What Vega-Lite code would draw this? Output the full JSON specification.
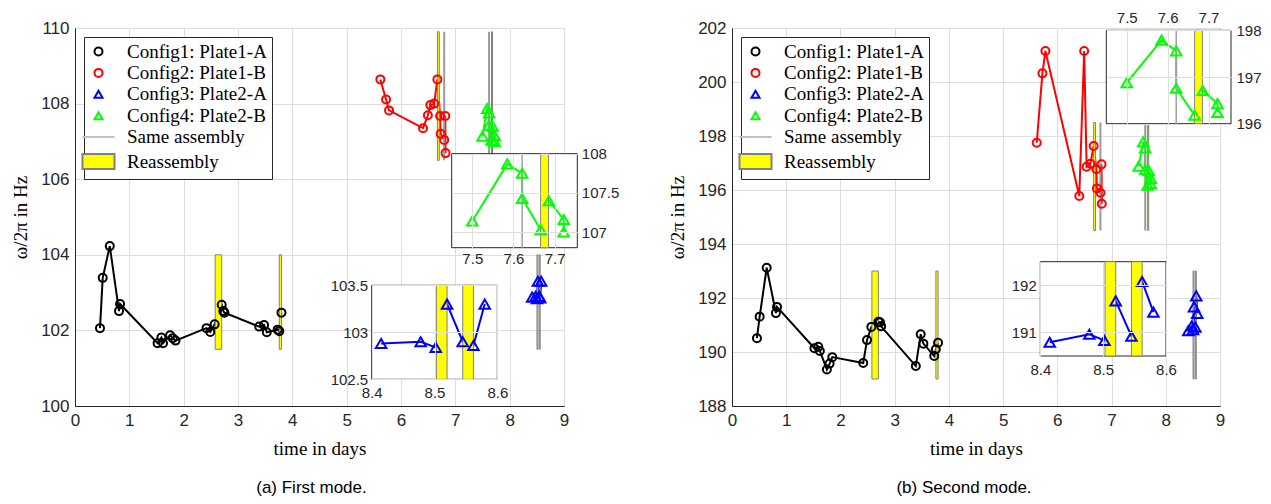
{
  "$schema": "https://vega.github.io/schema/vega-lite/v6.json",
  "padding": {"left": 11, "top": 9, "right": 0, "bottom": 0},
  "bounds": "flush",
  "spacing": 168,
  "datasets": {
    "pts": [
      {"mode":"a","config":"Config1: Plate1-A","t":0.46,"f":102.06,"seq":1},
      {"mode":"a","config":"Config1: Plate1-A","t":0.51,"f":103.39,"seq":2},
      {"mode":"a","config":"Config1: Plate1-A","t":0.64,"f":104.23,"seq":3},
      {"mode":"a","config":"Config1: Plate1-A","t":0.81,"f":102.51,"seq":4},
      {"mode":"a","config":"Config1: Plate1-A","t":0.83,"f":102.70,"seq":5},
      {"mode":"a","config":"Config1: Plate1-A","t":1.52,"f":101.66,"seq":6},
      {"mode":"a","config":"Config1: Plate1-A","t":1.59,"f":101.81,"seq":7},
      {"mode":"a","config":"Config1: Plate1-A","t":1.62,"f":101.66,"seq":8},
      {"mode":"a","config":"Config1: Plate1-A","t":1.75,"f":101.87,"seq":9},
      {"mode":"a","config":"Config1: Plate1-A","t":1.80,"f":101.79,"seq":10},
      {"mode":"a","config":"Config1: Plate1-A","t":1.85,"f":101.73,"seq":11},
      {"mode":"a","config":"Config1: Plate1-A","t":2.42,"f":102.06,"seq":12},
      {"mode":"a","config":"Config1: Plate1-A","t":2.49,"f":101.96,"seq":13},
      {"mode":"a","config":"Config1: Plate1-A","t":2.57,"f":102.16,"seq":14},
      {"mode":"a","config":"Config1: Plate1-A","t":2.70,"f":102.68,"seq":15},
      {"mode":"a","config":"Config1: Plate1-A","t":2.73,"f":102.51,"seq":16},
      {"mode":"a","config":"Config1: Plate1-A","t":2.75,"f":102.47,"seq":17},
      {"mode":"a","config":"Config1: Plate1-A","t":3.39,"f":102.10,"seq":18},
      {"mode":"a","config":"Config1: Plate1-A","t":3.48,"f":102.14,"seq":19},
      {"mode":"a","config":"Config1: Plate1-A","t":3.53,"f":101.95,"seq":20},
      {"mode":"a","config":"Config1: Plate1-A","t":3.73,"f":102.02,"seq":21},
      {"mode":"a","config":"Config1: Plate1-A","t":3.76,"f":101.98,"seq":22},
      {"mode":"a","config":"Config1: Plate1-A","t":3.80,"f":102.47,"seq":23},
      {"mode":"a","config":"Config2: Plate1-B","t":5.62,"f":108.64,"seq":1},
      {"mode":"a","config":"Config2: Plate1-B","t":5.725,"f":108.11,"seq":2},
      {"mode":"a","config":"Config2: Plate1-B","t":5.78,"f":107.82,"seq":3},
      {"mode":"a","config":"Config2: Plate1-B","t":6.405,"f":107.35,"seq":4},
      {"mode":"a","config":"Config2: Plate1-B","t":6.495,"f":107.69,"seq":5},
      {"mode":"a","config":"Config2: Plate1-B","t":6.54,"f":107.96,"seq":6},
      {"mode":"a","config":"Config2: Plate1-B","t":6.61,"f":108.00,"seq":7},
      {"mode":"a","config":"Config2: Plate1-B","t":6.67,"f":108.64,"seq":8},
      {"mode":"a","config":"Config2: Plate1-B","t":6.72,"f":107.67,"seq":9},
      {"mode":"a","config":"Config2: Plate1-B","t":6.73,"f":107.20,"seq":10},
      {"mode":"a","config":"Config2: Plate1-B","t":6.795,"f":107.04,"seq":11},
      {"mode":"a","config":"Config2: Plate1-B","t":6.815,"f":107.67,"seq":12},
      {"mode":"a","config":"Config2: Plate1-B","t":6.82,"f":106.69,"seq":13},
      {"mode":"a","config":"Config3: Plate2-A","t":8.415,"f":102.88,"seq":1},
      {"mode":"a","config":"Config3: Plate2-A","t":8.478,"f":102.90,"seq":2},
      {"mode":"a","config":"Config3: Plate2-A","t":8.502,"f":102.84,"seq":3},
      {"mode":"a","config":"Config3: Plate2-A","t":8.52,"f":103.30,"seq":4},
      {"mode":"a","config":"Config3: Plate2-A","t":8.545,"f":102.90,"seq":5},
      {"mode":"a","config":"Config3: Plate2-A","t":8.562,"f":102.86,"seq":6},
      {"mode":"a","config":"Config3: Plate2-A","t":8.58,"f":103.30,"seq":7},
      {"mode":"a","config":"Config4: Plate2-B","t":7.5,"f":107.14,"seq":1},
      {"mode":"a","config":"Config4: Plate2-B","t":7.585,"f":107.87,"seq":2},
      {"mode":"a","config":"Config4: Plate2-B","t":7.621,"f":107.75,"seq":3},
      {"mode":"a","config":"Config4: Plate2-B","t":7.621,"f":107.43,"seq":4},
      {"mode":"a","config":"Config4: Plate2-B","t":7.666,"f":107.03,"seq":5},
      {"mode":"a","config":"Config4: Plate2-B","t":7.686,"f":107.40,"seq":6},
      {"mode":"a","config":"Config4: Plate2-B","t":7.722,"f":107.16,"seq":7},
      {"mode":"a","config":"Config4: Plate2-B","t":7.722,"f":107.00,"seq":8},
      {"mode":"b","config":"Config1: Plate1-A","t":0.46,"f":190.51,"seq":1},
      {"mode":"b","config":"Config1: Plate1-A","t":0.51,"f":191.31,"seq":2},
      {"mode":"b","config":"Config1: Plate1-A","t":0.64,"f":193.12,"seq":3},
      {"mode":"b","config":"Config1: Plate1-A","t":0.81,"f":191.44,"seq":4},
      {"mode":"b","config":"Config1: Plate1-A","t":0.83,"f":191.67,"seq":5},
      {"mode":"b","config":"Config1: Plate1-A","t":1.52,"f":190.14,"seq":6},
      {"mode":"b","config":"Config1: Plate1-A","t":1.59,"f":190.19,"seq":7},
      {"mode":"b","config":"Config1: Plate1-A","t":1.62,"f":190.04,"seq":8},
      {"mode":"b","config":"Config1: Plate1-A","t":1.75,"f":189.35,"seq":9},
      {"mode":"b","config":"Config1: Plate1-A","t":1.80,"f":189.57,"seq":10},
      {"mode":"b","config":"Config1: Plate1-A","t":1.85,"f":189.81,"seq":11},
      {"mode":"b","config":"Config1: Plate1-A","t":2.42,"f":189.59,"seq":12},
      {"mode":"b","config":"Config1: Plate1-A","t":2.49,"f":190.44,"seq":13},
      {"mode":"b","config":"Config1: Plate1-A","t":2.57,"f":190.93,"seq":14},
      {"mode":"b","config":"Config1: Plate1-A","t":2.70,"f":191.12,"seq":15},
      {"mode":"b","config":"Config1: Plate1-A","t":2.73,"f":191.10,"seq":16},
      {"mode":"b","config":"Config1: Plate1-A","t":2.75,"f":190.95,"seq":17},
      {"mode":"b","config":"Config1: Plate1-A","t":3.39,"f":189.48,"seq":18},
      {"mode":"b","config":"Config1: Plate1-A","t":3.48,"f":190.66,"seq":19},
      {"mode":"b","config":"Config1: Plate1-A","t":3.53,"f":190.31,"seq":20},
      {"mode":"b","config":"Config1: Plate1-A","t":3.73,"f":189.85,"seq":21},
      {"mode":"b","config":"Config1: Plate1-A","t":3.76,"f":190.10,"seq":22},
      {"mode":"b","config":"Config1: Plate1-A","t":3.80,"f":190.34,"seq":23},
      {"mode":"b","config":"Config2: Plate1-B","t":5.62,"f":197.75,"seq":1},
      {"mode":"b","config":"Config2: Plate1-B","t":5.725,"f":200.32,"seq":2},
      {"mode":"b","config":"Config2: Plate1-B","t":5.78,"f":201.15,"seq":3},
      {"mode":"b","config":"Config2: Plate1-B","t":6.405,"f":195.78,"seq":4},
      {"mode":"b","config":"Config2: Plate1-B","t":6.495,"f":201.15,"seq":5},
      {"mode":"b","config":"Config2: Plate1-B","t":6.54,"f":196.86,"seq":6},
      {"mode":"b","config":"Config2: Plate1-B","t":6.61,"f":196.97,"seq":7},
      {"mode":"b","config":"Config2: Plate1-B","t":6.67,"f":197.63,"seq":8},
      {"mode":"b","config":"Config2: Plate1-B","t":6.72,"f":196.77,"seq":9},
      {"mode":"b","config":"Config2: Plate1-B","t":6.73,"f":196.06,"seq":10},
      {"mode":"b","config":"Config2: Plate1-B","t":6.795,"f":195.90,"seq":11},
      {"mode":"b","config":"Config2: Plate1-B","t":6.815,"f":196.95,"seq":12},
      {"mode":"b","config":"Config2: Plate1-B","t":6.82,"f":195.49,"seq":13},
      {"mode":"b","config":"Config3: Plate2-A","t":8.415,"f":190.79,"seq":1},
      {"mode":"b","config":"Config3: Plate2-A","t":8.478,"f":190.96,"seq":2},
      {"mode":"b","config":"Config3: Plate2-A","t":8.502,"f":190.83,"seq":3},
      {"mode":"b","config":"Config3: Plate2-A","t":8.52,"f":191.67,"seq":4},
      {"mode":"b","config":"Config3: Plate2-A","t":8.545,"f":190.92,"seq":5},
      {"mode":"b","config":"Config3: Plate2-A","t":8.562,"f":192.08,"seq":6},
      {"mode":"b","config":"Config3: Plate2-A","t":8.58,"f":191.43,"seq":7},
      {"mode":"b","config":"Config4: Plate2-B","t":7.5,"f":196.88,"seq":1},
      {"mode":"b","config":"Config4: Plate2-B","t":7.585,"f":197.79,"seq":2},
      {"mode":"b","config":"Config4: Plate2-B","t":7.621,"f":197.56,"seq":3},
      {"mode":"b","config":"Config4: Plate2-B","t":7.621,"f":196.76,"seq":4},
      {"mode":"b","config":"Config4: Plate2-B","t":7.666,"f":196.18,"seq":5},
      {"mode":"b","config":"Config4: Plate2-B","t":7.686,"f":196.71,"seq":6},
      {"mode":"b","config":"Config4: Plate2-B","t":7.722,"f":196.43,"seq":7},
      {"mode":"b","config":"Config4: Plate2-B","t":7.722,"f":196.24,"seq":8}
    ],
    "ev": [
      {"mode":"a","kind":"Reassembly","t1":2.58,"t2":2.70,"f1":101.5,"f2":104},
      {"mode":"a","kind":"Reassembly","t1":3.76,"t2":3.80,"f1":101.5,"f2":104},
      {"mode":"a","kind":"Reassembly","t1":6.67,"t2":6.705,"f1":106.5,"f2":109.9},
      {"mode":"a","kind":"Same assembly","t1":6.795,"f1":106.5,"f2":109.9},
      {"mode":"a","kind":"Same assembly","t1":7.621,"f1":106.5,"f2":109.9},
      {"mode":"a","kind":"Reassembly","t1":7.666,"t2":7.685,"f1":106.5,"f2":109.9},
      {"mode":"a","kind":"Reassembly","t1":8.503,"t2":8.52,"f1":101.5,"f2":104},
      {"mode":"a","kind":"Reassembly","t1":8.545,"t2":8.562,"f1":101.5,"f2":104},
      {"mode":"b","kind":"Reassembly","t1":2.58,"t2":2.70,"f1":189,"f2":193},
      {"mode":"b","kind":"Reassembly","t1":3.76,"t2":3.80,"f1":189,"f2":193},
      {"mode":"b","kind":"Reassembly","t1":6.67,"t2":6.705,"f1":194.5,"f2":198.5},
      {"mode":"b","kind":"Same assembly","t1":6.795,"f1":194.5,"f2":198.5},
      {"mode":"b","kind":"Same assembly","t1":7.621,"f1":194.5,"f2":198.5},
      {"mode":"b","kind":"Reassembly","t1":7.666,"t2":7.685,"f1":194.5,"f2":198.5},
      {"mode":"b","kind":"Reassembly","t1":8.503,"t2":8.52,"f1":189,"f2":193},
      {"mode":"b","kind":"Reassembly","t1":8.545,"t2":8.562,"f1":189,"f2":193}
    ],
    "frames": [
      {"mode":"a","inset":"green","t1":7.45,"t2":7.755,"f1":106.8,"f2":108},
      {"mode":"a","inset":"blue","t1":8.4,"t2":8.6,"f1":102.5,"f2":103.5},
      {"mode":"b","inset":"green","t1":7.45,"t2":7.755,"f1":196,"f2":198},
      {"mode":"b","inset":"blue","t1":8.4,"t2":8.6,"f1":190.5,"f2":192.5}
    ]
  },
  "hconcat": [
    {
      "width": 489, "height": 378,
      "title": {"text": "(a) First mode.", "dx": -8},
      "resolve": {"scale": {"x": "independent", "y": "independent"}},
      "layer": [
        {
          "layer": [
            {
              "data": {"name": "pts"}, "transform": [{"filter": "datum.mode === 'a'"}],
              "mark": {"type": "line", "strokeWidth": 2},
              "encoding": {
                "x": {"field": "t", "type": "quantitative", "scale": {"domain": [0, 9], "nice": false, "zero": false}, "axis": {"title": "time in days", "values": [0,1,2,3,4,5,6,7,8,9], "format": "~g", "grid": true}},
                "y": {"field": "f", "type": "quantitative", "scale": {"domain": [100, 110], "nice": false, "zero": false}, "axis": {"title": "ω/2π in Hz", "values": [100,102,104,106,108,110], "format": "~g", "grid": true}},
                "stroke": {"field": "config", "type": "nominal", "title": null, "scale": {"domain": ["Config1: Plate1-A","Config2: Plate1-B","Config3: Plate2-A","Config4: Plate2-B","Same assembly","Reassembly"], "range": ["#000000","#ff0000","#0000ff","#00ff00","#c0c0c0","#808080"]}},
                "order": {"field": "seq", "type": "quantitative"}
              }
            },
            {
              "data": {"name": "ev"}, "transform": [{"filter": "datum.mode === 'a' && datum.kind === 'Same assembly'"}],
              "mark": {"type": "rule", "color": "#9a9a9a", "strokeWidth": 2},
              "encoding": {"x": {"field": "t1", "type": "quantitative"}, "y": {"field": "f1", "type": "quantitative"}, "y2": {"field": "f2"}}
            },
            {
              "data": {"name": "ev"}, "transform": [{"filter": "datum.mode === 'a' && datum.kind === 'Reassembly'"}],
              "mark": {"type": "rect", "fill": "#ffff00", "stroke": "#808080", "strokeWidth": 1},
              "encoding": {"x": {"field": "t1", "type": "quantitative"}, "x2": {"field": "t2"}, "y": {"field": "f1", "type": "quantitative"}, "y2": {"field": "f2"}}
            },
            {
              "data": {"name": "pts"}, "transform": [{"filter": "datum.mode === 'a' && (datum.config === 'Config1: Plate1-A' || datum.config === 'Config2: Plate1-B')"}],
              "mark": {"type": "point", "strokeWidth": 2, "size": 64, "opacity": 1},
              "encoding": {
                "x": {"field": "t", "type": "quantitative"},
                "y": {"field": "f", "type": "quantitative"},
                "stroke": {"field": "config", "type": "nominal", "title": null, "scale": {"domain": ["Config1: Plate1-A","Config2: Plate1-B","Config3: Plate2-A","Config4: Plate2-B","Same assembly","Reassembly"], "range": ["#000000","#ff0000","#0000ff","#00ff00","#c0c0c0","#808080"]}},
                "fill": {"field": "config", "type": "nominal", "title": null, "scale": {"domain": ["Config1: Plate1-A","Config2: Plate1-B","Config3: Plate2-A","Config4: Plate2-B","Same assembly","Reassembly"], "range": ["transparent","transparent","transparent","transparent","transparent","#ffff00"]}},
                "shape": {"field": "config", "type": "nominal", "title": null, "scale": {"domain": ["Config1: Plate1-A","Config2: Plate1-B","Config3: Plate2-A","Config4: Plate2-B","Same assembly","Reassembly"], "range": ["M-4,0M4,0M1,0A1,1,0,1,1,-1,0A1,1,0,1,1,1,0Z","M-4,0M4,0M1,0A1,1,0,1,1,-1,0A1,1,0,1,1,1,0Z","M-4,0M4,0M0,-0.866L-1,0.866L1,0.866Z","M-4,0M4,0M0,-0.866L-1,0.866L1,0.866Z","M-4,0H4","M-4,-1.9H4V1.9H-4Z"]}}
              }
            },
            {
              "data": {"name": "pts"}, "transform": [{"filter": "datum.mode === 'a' && (datum.config === 'Config3: Plate2-A' || datum.config === 'Config4: Plate2-B')"}],
              "mark": {"type": "point", "strokeWidth": 2, "size": 110, "opacity": 1},
              "encoding": {
                "x": {"field": "t", "type": "quantitative"},
                "y": {"field": "f", "type": "quantitative"},
                "stroke": {"field": "config", "type": "nominal", "title": null},
                "fill": {"field": "config", "type": "nominal", "title": null},
                "shape": {"field": "config", "type": "nominal", "title": null}
              }
            }
          ]
        },
        {
          "resolve": {"axis": {"x": "independent", "y": "independent"}},
          "layer": [
            {
              "data": {"name": "frames"}, "transform": [{"filter": "datum.mode === 'a' && datum.inset === 'green'"}],
              "mark": {"type": "rect", "fill": "#ffffff", "stroke": "#262626", "strokeWidth": 1},
              "encoding": {
                "x": {"field": "t1", "type": "quantitative", "scale": {"domain": [7.45, 7.755], "range": [376.7, 502.3], "nice": false, "zero": false}, "axis": {"orient": "top", "values": [7.5,7.6,7.7], "grid": true, "labels": false, "domain": false, "ticks": false, "title": null, "zindex": 1}},
                "x2": {"field": "t2"},
                "y": {"field": "f1", "type": "quantitative", "scale": {"domain": [106.8, 108], "range": [219.7, 125.7], "nice": false, "zero": false, "clamp": true}, "axis": {"orient": "left", "values": [107,107.5,108], "grid": true, "labels": false, "domain": false, "ticks": false, "title": null, "zindex": 1}},
                "y2": {"field": "f2"}
              }
            },
            {
              "data": {"name": "pts"}, "transform": [{"filter": "datum.mode === 'a' && datum.config === 'Config4: Plate2-B'"}],
              "mark": {"type": "line", "color": "#00ff00", "strokeWidth": 2},
              "encoding": {"x": {"field": "t", "type": "quantitative", "axis": null}, "y": {"field": "f", "type": "quantitative", "axis": null}, "order": {"field": "seq", "type": "quantitative"}}
            },
            {
              "data": {"name": "ev"}, "transform": [{"filter": "datum.mode === 'a' && datum.kind === 'Same assembly' && datum.t1 > 7.45 && datum.t1 < 7.755"}],
              "mark": {"type": "rule", "color": "#a0a0a0", "strokeWidth": 1.5},
              "encoding": {"x": {"field": "t1", "type": "quantitative", "axis": null}, "y": {"field": "f1", "type": "quantitative", "axis": null}, "y2": {"field": "f2"}}
            },
            {
              "data": {"name": "ev"}, "transform": [{"filter": "datum.mode === 'a' && datum.kind === 'Reassembly' && datum.t1 > 7.45 && datum.t1 < 7.755"}],
              "mark": {"type": "rect", "fill": "#ffff00", "stroke": "#808080", "strokeWidth": 1},
              "encoding": {"x": {"field": "t1", "type": "quantitative", "axis": null}, "x2": {"field": "t2"}, "y": {"field": "f1", "type": "quantitative", "axis": null}, "y2": {"field": "f2"}}
            },
            {
              "data": {"name": "pts"}, "transform": [{"filter": "datum.mode === 'a' && datum.config === 'Config4: Plate2-B'"}],
              "mark": {"type": "point", "shape": "triangle-up", "filled": false, "color": "#00ff00", "strokeWidth": 2, "size": 110, "opacity": 1},
              "encoding": {
                "x": {"field": "t", "type": "quantitative", "axis": {"orient": "bottom", "offset": -158.3, "values": [7.5,7.6,7.7], "format": "~g", "grid": false, "domain": false, "ticks": false, "labelFontSize": 15, "labelPadding": 4, "title": null}},
                "y": {"field": "f", "type": "quantitative", "axis": {"orient": "right", "offset": 13.3, "values": [107,107.5,108], "format": "~g", "grid": false, "domain": false, "ticks": false, "labelFontSize": 15, "labelPadding": 4, "title": null}}
              }
            }
          ]
        },
        {
          "resolve": {"axis": {"x": "independent", "y": "independent"}},
          "layer": [
            {
              "data": {"name": "frames"}, "transform": [{"filter": "datum.mode === 'a' && datum.inset === 'blue'"}],
              "mark": {"type": "rect", "fill": "#ffffff", "stroke": "#262626", "strokeWidth": 1},
              "encoding": {
                "x": {"field": "t1", "type": "quantitative", "scale": {"domain": [8.4, 8.6], "range": [296.7, 422.3], "nice": false, "zero": false}, "axis": {"orient": "top", "values": [8.4,8.5,8.6], "grid": true, "labels": false, "domain": false, "ticks": false, "title": null, "zindex": 1}},
                "x2": {"field": "t2"},
                "y": {"field": "f1", "type": "quantitative", "scale": {"domain": [102.5, 103.5], "range": [351.3, 257.3], "nice": false, "zero": false, "clamp": true}, "axis": {"orient": "left", "values": [102.5,103,103.5], "grid": true, "labels": false, "domain": false, "ticks": false, "title": null, "zindex": 1}},
                "y2": {"field": "f2"}
              }
            },
            {
              "data": {"name": "pts"}, "transform": [{"filter": "datum.mode === 'a' && datum.config === 'Config3: Plate2-A'"}],
              "mark": {"type": "line", "color": "#0000ff", "strokeWidth": 2},
              "encoding": {"x": {"field": "t", "type": "quantitative", "axis": null}, "y": {"field": "f", "type": "quantitative", "axis": null}, "order": {"field": "seq", "type": "quantitative"}}
            },
            {
              "data": {"name": "ev"}, "transform": [{"filter": "datum.mode === 'a' && datum.kind === 'Reassembly' && datum.t1 > 8.4 && datum.t1 < 8.6"}],
              "mark": {"type": "rect", "fill": "#ffff00", "stroke": "#808080", "strokeWidth": 1},
              "encoding": {"x": {"field": "t1", "type": "quantitative", "axis": null}, "x2": {"field": "t2"}, "y": {"field": "f1", "type": "quantitative", "axis": null}, "y2": {"field": "f2"}}
            },
            {
              "data": {"name": "pts"}, "transform": [{"filter": "datum.mode === 'a' && datum.config === 'Config3: Plate2-A'"}],
              "mark": {"type": "point", "shape": "triangle-up", "filled": false, "color": "#0000ff", "strokeWidth": 2, "size": 110, "opacity": 1},
              "encoding": {
                "x": {"field": "t", "type": "quantitative", "axis": {"orient": "bottom", "offset": -26.7, "values": [8.4,8.5,8.6], "format": "~g", "grid": false, "domain": false, "ticks": false, "labelFontSize": 15, "labelPadding": 6, "title": null}},
                "y": {"field": "f", "type": "quantitative", "axis": {"orient": "left", "offset": -296.7, "values": [102.5,103,103.5], "format": "~g", "grid": false, "domain": false, "ticks": false, "labelFontSize": 15, "labelPadding": 4, "title": null}}
              }
            }
          ]
        }
      ]
    },
    {
      "width": 488, "height": 378,
      "title": {"text": "(b) Second mode.", "dx": -12},
      "resolve": {"scale": {"x": "independent", "y": "independent"}},
      "layer": [
        {
          "layer": [
            {
              "data": {"name": "pts"}, "transform": [{"filter": "datum.mode === 'b'"}],
              "mark": {"type": "line", "strokeWidth": 2},
              "encoding": {
                "x": {"field": "t", "type": "quantitative", "scale": {"domain": [0, 9], "nice": false, "zero": false}, "axis": {"title": "time in days", "values": [0,1,2,3,4,5,6,7,8,9], "format": "~g", "grid": true}},
                "y": {"field": "f", "type": "quantitative", "scale": {"domain": [188, 202], "nice": false, "zero": false}, "axis": {"title": "ω/2π in Hz", "values": [188,190,192,194,196,198,200,202], "format": "~g", "grid": true}},
                "stroke": {"field": "config", "type": "nominal", "title": null, "scale": {"domain": ["Config1: Plate1-A","Config2: Plate1-B","Config3: Plate2-A","Config4: Plate2-B","Same assembly","Reassembly"], "range": ["#000000","#ff0000","#0000ff","#00ff00","#c0c0c0","#808080"]}},
                "order": {"field": "seq", "type": "quantitative"}
              }
            },
            {
              "data": {"name": "ev"}, "transform": [{"filter": "datum.mode === 'b' && datum.kind === 'Same assembly'"}],
              "mark": {"type": "rule", "color": "#9a9a9a", "strokeWidth": 2},
              "encoding": {"x": {"field": "t1", "type": "quantitative"}, "y": {"field": "f1", "type": "quantitative"}, "y2": {"field": "f2"}}
            },
            {
              "data": {"name": "ev"}, "transform": [{"filter": "datum.mode === 'b' && datum.kind === 'Reassembly'"}],
              "mark": {"type": "rect", "fill": "#ffff00", "stroke": "#808080", "strokeWidth": 1},
              "encoding": {"x": {"field": "t1", "type": "quantitative"}, "x2": {"field": "t2"}, "y": {"field": "f1", "type": "quantitative"}, "y2": {"field": "f2"}}
            },
            {
              "data": {"name": "pts"}, "transform": [{"filter": "datum.mode === 'b' && (datum.config === 'Config1: Plate1-A' || datum.config === 'Config2: Plate1-B')"}],
              "mark": {"type": "point", "strokeWidth": 2, "size": 64, "opacity": 1},
              "encoding": {
                "x": {"field": "t", "type": "quantitative"},
                "y": {"field": "f", "type": "quantitative"},
                "stroke": {"field": "config", "type": "nominal", "title": null, "scale": {"domain": ["Config1: Plate1-A","Config2: Plate1-B","Config3: Plate2-A","Config4: Plate2-B","Same assembly","Reassembly"], "range": ["#000000","#ff0000","#0000ff","#00ff00","#c0c0c0","#808080"]}},
                "fill": {"field": "config", "type": "nominal", "title": null, "scale": {"domain": ["Config1: Plate1-A","Config2: Plate1-B","Config3: Plate2-A","Config4: Plate2-B","Same assembly","Reassembly"], "range": ["transparent","transparent","transparent","transparent","transparent","#ffff00"]}},
                "shape": {"field": "config", "type": "nominal", "title": null, "scale": {"domain": ["Config1: Plate1-A","Config2: Plate1-B","Config3: Plate2-A","Config4: Plate2-B","Same assembly","Reassembly"], "range": ["M-4,0M4,0M1,0A1,1,0,1,1,-1,0A1,1,0,1,1,1,0Z","M-4,0M4,0M1,0A1,1,0,1,1,-1,0A1,1,0,1,1,1,0Z","M-4,0M4,0M0,-0.866L-1,0.866L1,0.866Z","M-4,0M4,0M0,-0.866L-1,0.866L1,0.866Z","M-4,0H4","M-4,-1.9H4V1.9H-4Z"]}}
              }
            },
            {
              "data": {"name": "pts"}, "transform": [{"filter": "datum.mode === 'b' && (datum.config === 'Config3: Plate2-A' || datum.config === 'Config4: Plate2-B')"}],
              "mark": {"type": "point", "strokeWidth": 2, "size": 110, "opacity": 1},
              "encoding": {
                "x": {"field": "t", "type": "quantitative"},
                "y": {"field": "f", "type": "quantitative"},
                "stroke": {"field": "config", "type": "nominal", "title": null},
                "fill": {"field": "config", "type": "nominal", "title": null},
                "shape": {"field": "config", "type": "nominal", "title": null}
              }
            }
          ]
        },
        {
          "resolve": {"axis": {"x": "independent", "y": "independent"}},
          "layer": [
            {
              "data": {"name": "frames"}, "transform": [{"filter": "datum.mode === 'b' && datum.inset === 'green'"}],
              "mark": {"type": "rect", "fill": "#ffffff", "stroke": "#262626", "strokeWidth": 1},
              "encoding": {
                "x": {"field": "t1", "type": "quantitative", "scale": {"domain": [7.45, 7.755], "range": [374.3, 499], "nice": false, "zero": false}, "axis": {"orient": "top", "values": [7.5,7.6,7.7], "grid": true, "labels": false, "domain": false, "ticks": false, "title": null, "zindex": 1}},
                "x2": {"field": "t2"},
                "y": {"field": "f1", "type": "quantitative", "scale": {"domain": [196, 198], "range": [95.7, 2.3], "nice": false, "zero": false, "clamp": true}, "axis": {"orient": "left", "values": [196,197,198], "grid": true, "labels": false, "domain": false, "ticks": false, "title": null, "zindex": 1}},
                "y2": {"field": "f2"}
              }
            },
            {
              "data": {"name": "pts"}, "transform": [{"filter": "datum.mode === 'b' && datum.config === 'Config4: Plate2-B'"}],
              "mark": {"type": "line", "color": "#00ff00", "strokeWidth": 2},
              "encoding": {"x": {"field": "t", "type": "quantitative", "axis": null}, "y": {"field": "f", "type": "quantitative", "axis": null}, "order": {"field": "seq", "type": "quantitative"}}
            },
            {
              "data": {"name": "ev"}, "transform": [{"filter": "datum.mode === 'b' && datum.kind === 'Same assembly' && datum.t1 > 7.45 && datum.t1 < 7.755"}],
              "mark": {"type": "rule", "color": "#a0a0a0", "strokeWidth": 1.5},
              "encoding": {"x": {"field": "t1", "type": "quantitative", "axis": null}, "y": {"field": "f1", "type": "quantitative", "axis": null}, "y2": {"field": "f2"}}
            },
            {
              "data": {"name": "ev"}, "transform": [{"filter": "datum.mode === 'b' && datum.kind === 'Reassembly' && datum.t1 > 7.45 && datum.t1 < 7.755"}],
              "mark": {"type": "rect", "fill": "#ffff00", "stroke": "#808080", "strokeWidth": 1},
              "encoding": {"x": {"field": "t1", "type": "quantitative", "axis": null}, "x2": {"field": "t2"}, "y": {"field": "f1", "type": "quantitative", "axis": null}, "y2": {"field": "f2"}}
            },
            {
              "data": {"name": "pts"}, "transform": [{"filter": "datum.mode === 'b' && datum.config === 'Config4: Plate2-B'"}],
              "mark": {"type": "point", "shape": "triangle-up", "filled": false, "color": "#00ff00", "strokeWidth": 2, "size": 110, "opacity": 1},
              "encoding": {
                "x": {"field": "t", "type": "quantitative", "axis": {"orient": "top", "offset": -2.3, "values": [7.5,7.6,7.7], "format": "~g", "grid": false, "domain": false, "ticks": false, "labelFontSize": 15, "labelPadding": 5, "title": null}},
                "y": {"field": "f", "type": "quantitative", "axis": {"orient": "right", "offset": 11, "values": [196,197,198], "format": "~g", "grid": false, "domain": false, "ticks": false, "labelFontSize": 15, "labelPadding": 5, "title": null}}
              }
            }
          ]
        },
        {
          "resolve": {"axis": {"x": "independent", "y": "independent"}},
          "layer": [
            {
              "data": {"name": "frames"}, "transform": [{"filter": "datum.mode === 'b' && datum.inset === 'blue'"}],
              "mark": {"type": "rect", "fill": "#ffffff", "stroke": "#262626", "strokeWidth": 1},
              "encoding": {
                "x": {"field": "t1", "type": "quantitative", "scale": {"domain": [8.4, 8.6], "range": [308.3, 434], "nice": false, "zero": false}, "axis": {"orient": "top", "values": [8.4,8.5,8.6], "grid": true, "labels": false, "domain": false, "ticks": false, "title": null, "zindex": 1}},
                "x2": {"field": "t2"},
                "y": {"field": "f1", "type": "quantitative", "scale": {"domain": [190.5, 192.5], "range": [328, 233.7], "nice": false, "zero": false, "clamp": true}, "axis": {"orient": "left", "values": [191,192], "grid": true, "labels": false, "domain": false, "ticks": false, "title": null, "zindex": 1}},
                "y2": {"field": "f2"}
              }
            },
            {
              "data": {"name": "pts"}, "transform": [{"filter": "datum.mode === 'b' && datum.config === 'Config3: Plate2-A'"}],
              "mark": {"type": "line", "color": "#0000ff", "strokeWidth": 2},
              "encoding": {"x": {"field": "t", "type": "quantitative", "axis": null}, "y": {"field": "f", "type": "quantitative", "axis": null}, "order": {"field": "seq", "type": "quantitative"}}
            },
            {
              "data": {"name": "ev"}, "transform": [{"filter": "datum.mode === 'b' && datum.kind === 'Reassembly' && datum.t1 > 8.4 && datum.t1 < 8.6"}],
              "mark": {"type": "rect", "fill": "#ffff00", "stroke": "#808080", "strokeWidth": 1},
              "encoding": {"x": {"field": "t1", "type": "quantitative", "axis": null}, "x2": {"field": "t2"}, "y": {"field": "f1", "type": "quantitative", "axis": null}, "y2": {"field": "f2"}}
            },
            {
              "data": {"name": "pts"}, "transform": [{"filter": "datum.mode === 'b' && datum.config === 'Config3: Plate2-A'"}],
              "mark": {"type": "point", "shape": "triangle-up", "filled": false, "color": "#0000ff", "strokeWidth": 2, "size": 110, "opacity": 1},
              "encoding": {
                "x": {"field": "t", "type": "quantitative", "axis": {"orient": "bottom", "offset": -50, "values": [8.4,8.5,8.6], "format": "~g", "grid": false, "domain": false, "ticks": false, "labelFontSize": 15, "labelPadding": 6, "title": null}},
                "y": {"field": "f", "type": "quantitative", "axis": {"orient": "left", "offset": -308.3, "values": [191,192], "format": "~g", "grid": false, "domain": false, "ticks": false, "labelFontSize": 15, "labelPadding": 4, "title": null}}
              }
            }
          ]
        }
      ]
    }
  ],
  "resolve": {"scale": {"stroke": "independent", "fill": "independent", "shape": "independent"}},
  "config": {
    "view": {"stroke": "#262626", "strokeWidth": 1},
    "axis": {"labelFont": "Liberation Sans", "labelFontSize": 17, "labelColor": "#262626", "ticks": false, "labelPadding": 6, "domainColor": "#262626", "gridColor": "#dedede", "gridOpacity": 1, "titleFont": "Liberation Serif", "titleFontSize": 19, "titleFontWeight": "normal", "titleColor": "#000000", "labelFlush": false, "labelOverlap": false, "titlePadding": 10},
    "axisX": {"titlePadding": 11},
    "legend": {"orient": "top-left", "offset": 9, "padding": 5, "fillColor": "#ffffff", "strokeColor": "#262626", "labelFont": "Liberation Serif", "labelFontSize": 19, "labelColor": "#000000", "symbolSize": 64, "symbolStrokeWidth": 2, "rowPadding": 1.4, "symbolOffset": 0, "labelOffset": 19, "labelLimit": 300},
    "title": {"font": "Liberation Sans", "fontSize": 17, "fontWeight": "normal", "color": "#000000", "orient": "bottom", "offset": 22}
  }
}
